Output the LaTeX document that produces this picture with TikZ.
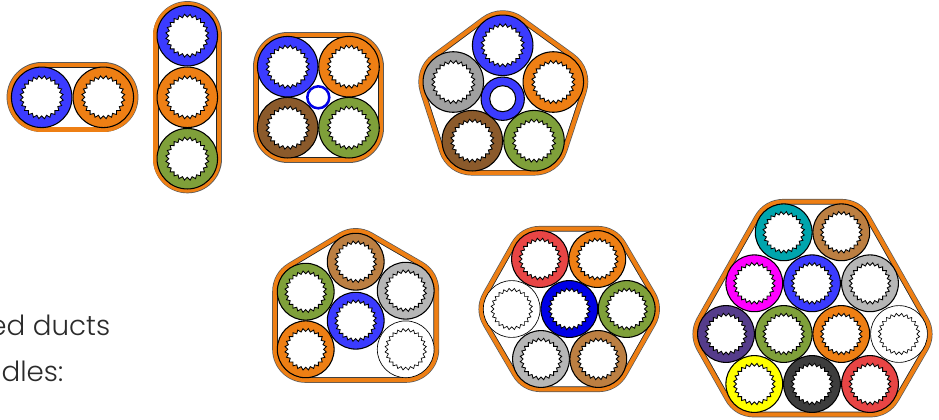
\documentclass[tikz,border=0pt]{standalone}
\usepackage{fontspec}
\setmainfont{Poppins}[UprightFont=* Light]
\definecolor{cblue}{HTML}{3B3BFF}
\definecolor{cdeep}{HTML}{0000E6}
\definecolor{corange}{HTML}{EE7F14}
\definecolor{cgreen}{HTML}{7FA03A}
\definecolor{cbrown}{HTML}{8B5A2B}
\definecolor{cgrey}{HTML}{A0A0A0}
\definecolor{clgrey}{HTML}{B6B6B6}
\definecolor{ctan}{HTML}{BC7F42}
\definecolor{cred}{HTML}{E84545}
\definecolor{cteal}{HTML}{00A5AD}
\definecolor{cmag}{HTML}{FF00FF}
\definecolor{cpurple}{HTML}{553C8B}
\definecolor{cyell}{HTML}{FFFF00}
\definecolor{cdark}{HTML}{3D3D3D}
\definecolor{ctext}{HTML}{2B2B2B}
\tikzset{
  ring/.style={circle,draw=black,line width=0.8pt,inner sep=0pt,outer sep=0pt,fill=#1},
  teeth/.style={draw=black,line width=0.65pt,fill=white,line join=miter},
  label text/.style={text=ctext,font=\fontsize{20.8pt}{24pt}\selectfont,anchor=base east,inner sep=0pt},
}
% x, y, outer radius of teeth (px)
\newcommand{\zigzag}[4][]{%
  \draw[teeth,#1] plot[samples=48,domain=0:47,variable=\k]
    ({#2+#4*(0.93+0.07*(2*mod(\k,2)-1))*cos(\k*7.5)},
     {#3+#4*(0.93+0.07*(2*mod(\k,2)-1))*sin(\k*7.5)}) -- cycle;}
% name, x, y, colour
\newcommand{\ductA}[4]{%
  \node[ring=#4,minimum size=45.4pt] (#1) at (#2,#3) {};
  \zigzag{#2}{#3}{21.6}}
\newcommand{\ductB}[4]{%
  \node[ring=#4,minimum size=42.6pt] (#1) at (#2,#3) {};
  \zigzag{#2}{#3}{20.8}}
\newcommand{\ductW}[3]{%
  \node[ring=white,line width=0.5pt,minimum size=42.6pt] (#1) at (#2,#3) {};
  \zigzag[line width=0.5pt]{#2}{#3}{20.8}}
% half-width (px), hull path: drawn as thick round-joined strokes
\newcommand{\sheath}[2]{%
  \pgfmathsetmacro{\lwa}{(2*#1+6.2)*0.75}
  \pgfmathsetmacro{\lwb}{(2*#1+4.8)*0.75}
  \pgfmathsetmacro{\lwc}{(2*#1-3.8)*0.75}
  \pgfmathsetmacro{\lwd}{(2*#1-5.4)*0.75}
  \begin{scope}[line join=round,line cap=round]
  \draw[line width=\lwa pt,black!65] #2;
  \draw[line width=\lwb pt,corange] #2;
  \draw[line width=\lwc pt,black!85] #2;
  \draw[line width=\lwd pt,white,fill=white] #2;
  \end{scope}}
\begin{document}
\begin{tikzpicture}[x=0.75pt,y=-0.75pt]
\useasboundingbox (0,0) rectangle (939,419);
% bundle 1
\sheath{32}{(41.7,97.3) -- (103.3,97.3)}
\ductA{a}{41.7}{97.3}{cblue}
\ductA{b}{103.3}{97.3}{corange}
% bundle 2
\sheath{31.5}{(187.3,35.7) -- (187.3,158.7)}
\ductA{c}{187.3}{35.7}{cblue}
\ductA{d}{187.3}{97.3}{corange}
\ductA{e}{187.3}{158.7}{cgreen}
% bundle 3
\sheath{31.8}{(287.7,66.7) -- (349,66.7) -- (349,127.7) -- (287.7,127.7) -- cycle}
\ductA{f}{287.7}{66.7}{cblue}
\ductA{g}{349}{66.7}{corange}
\ductA{h}{287.7}{127.7}{cbrown}
\ductA{i}{349}{127.7}{cgreen}
\node[circle,draw=cdeep,line width=1.9pt,fill=white,minimum size=16.5pt,inner sep=0pt] (j) at (318.3,97.3) {};
% bundle 4
\sheath{31.8}{(502.7,45.3) -- (553.3,82) -- (534,140.7) -- (472.3,140.7) -- (453.3,82) -- cycle}
\ductA{k}{502.7}{45.3}{cblue}
\ductA{l}{553.3}{82}{corange}
\ductA{m}{534}{140.7}{cgreen}
\ductA{n}{472.3}{140.7}{cbrown}
\ductA{o}{453.3}{82}{cgrey}
\node[circle,draw=black,line width=0.8pt,fill=cblue,minimum size=32.5pt,inner sep=0pt] (p) at (502.7,98.7) {};
\node[circle,draw=black,line width=0.8pt,fill=white,minimum size=19.5pt,inner sep=0pt] (pi) at (502.7,98.7) {};
% bundle 5
\sheath{30.4}{(355.7,261.7) -- (405.7,290.7) -- (405.7,349.3) -- (305.7,349.3) -- (305.7,291.7) -- cycle}
\ductB{q}{355.7}{261.7}{ctan}
\ductB{r}{405.7}{290.7}{clgrey}
\ductW{s}{405.7}{349.3}
\ductB{t}{355.7}{320.7}{cblue}
\ductB{u}{305.7}{291.7}{cgreen}
\ductB{v}{305.7}{349.3}{corange}
% bundle 6
\sheath{30}{(540,259) -- (597.3,259) -- (626.7,309) -- (598.3,359) -- (541,359) -- (511.7,309) -- cycle}
\ductB{w}{540}{259}{cred}
\ductB{x}{597.3}{259}{corange}
\ductW{y}{511.7}{309}
\ductB{z}{569.3}{309}{cdeep}
\ductB{aa}{626.7}{309}{cgreen}
\ductB{ab}{541}{359}{clgrey}
\ductB{ac}{598.3}{359}{ctan}
% bundle 7
\sheath{30.3}{(783.7,232.3) -- (841.3,232.3) -- (899,334) -- (870,384) -- (754.3,384) -- (726,334) -- cycle}
\ductB{ad}{783.7}{232.3}{cteal}
\ductB{ae}{841.3}{232.3}{ctan}
\ductB{af}{754.3}{283.3}{cmag}
\ductB{ag}{812}{283.3}{cblue}
\ductB{ah}{870}{283.3}{clgrey}
\ductB{ai}{726}{334}{cpurple}
\ductB{aj}{783.7}{334}{cgreen}
\ductB{ak}{841.3}{334}{corange}
\ductW{al}{899}{334}
\ductB{am}{754.3}{384}{cyell}
\ductB{an}{812}{384}{cdark}
\ductB{ao}{870}{384}{cred}
% text
\node[label text] (t1) at (110.5,335) {ed ducts};
\node[label text] (t2) at (63.5,381) {dles:};
\end{tikzpicture}
\end{document}
